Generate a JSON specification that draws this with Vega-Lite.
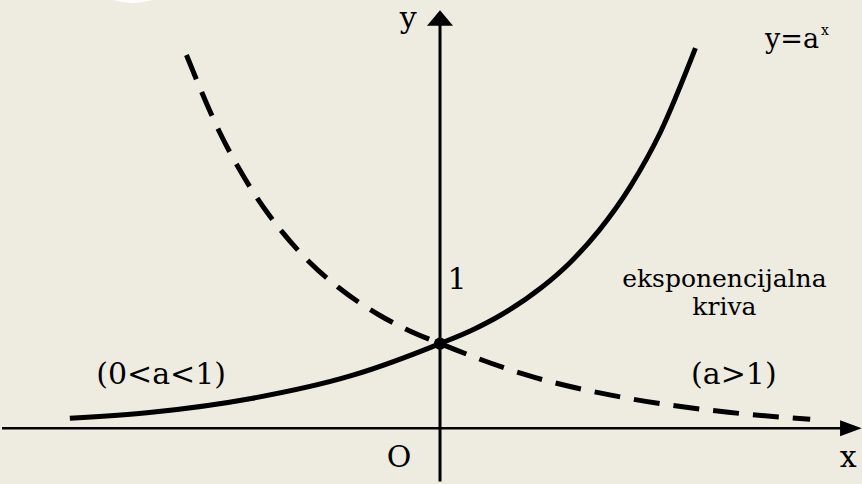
{
  "$schema": "https://vega.github.io/schema/vega-lite/v6.json",
  "width": 862,
  "height": 484,
  "padding": 0,
  "autosize": {"type": "fit", "contains": "padding"},
  "background": "#eeebe0",
  "config": {"view": {"stroke": null}},
  "layer": [
    {
      "data": {"values": [{"x": -3.624, "y": 5.712}]},
      "mark": {"type": "point", "shape": "circle", "filled": true, "color": "#ffffff", "opacity": 0.9, "size": 13689, "clip": true},
      "encoding": {
        "x": {"field": "x", "type": "quantitative", "scale": {"domain": [-5.165, 4.976], "nice": false, "zero": false}, "axis": null},
        "y": {"field": "y", "type": "quantitative", "scale": {"domain": [-0.635, 5.059], "nice": false, "zero": false}, "axis": null}
      }
    },
    {
      "data": {"values": [{"x": -5.165, "x2": 4.82, "y": 0}]},
      "mark": {"type": "rule", "color": "#000000", "strokeWidth": 2.5},
      "encoding": {
        "x": {"field": "x", "type": "quantitative"},
        "x2": {"field": "x2"},
        "y": {"field": "y", "type": "quantitative"}
      }
    },
    {
      "data": {"values": [{"x": 0, "y": -0.63, "y2": 4.8}]},
      "mark": {"type": "rule", "color": "#000000", "strokeWidth": 3},
      "encoding": {
        "x": {"field": "x", "type": "quantitative"},
        "y": {"field": "y", "type": "quantitative"},
        "y2": {"field": "y2"}
      }
    },
    {
      "data": {"values": [{"x": 0, "y": 4.847}]},
      "mark": {"type": "point", "shape": "M0,-0.6L1,0.6L-1,0.6Z", "filled": true, "color": "#000000", "opacity": 1, "size": 676},
      "encoding": {
        "x": {"field": "x", "type": "quantitative"},
        "y": {"field": "y", "type": "quantitative"}
      }
    },
    {
      "data": {"values": [{"x": 4.845, "y": 0}]},
      "mark": {"type": "point", "shape": "M1.35,0L-1.35,-1L-1.35,1Z", "filled": true, "color": "#000000", "opacity": 1, "size": 256},
      "encoding": {
        "x": {"field": "x", "type": "quantitative"},
        "y": {"field": "y", "type": "quantitative"}
      }
    },
    {
      "data": {"values": [
        {"x": -4.365, "y": 0.118},
        {"x": -3.4, "y": 0.189},
        {"x": -2.224, "y": 0.352},
        {"x": -1.047, "y": 0.621},
        {"x": 0, "y": 1},
        {"x": 0.4, "y": 1.17},
        {"x": 0.718, "y": 1.338},
        {"x": 1.2, "y": 1.665},
        {"x": 1.541, "y": 1.965},
        {"x": 1.871, "y": 2.331},
        {"x": 2.247, "y": 2.86},
        {"x": 2.6, "y": 3.5},
        {"x": 3.012, "y": 4.49}
      ]},
      "mark": {"type": "line", "color": "#000000", "strokeWidth": 5, "interpolate": "monotone"},
      "encoding": {
        "x": {"field": "x", "type": "quantitative"},
        "y": {"field": "y", "type": "quantitative"}
      }
    },
    {
      "data": {"values": [
        {"x": -2.99, "y": 4.41},
        {"x": -2.6, "y": 3.5},
        {"x": -2.247, "y": 2.86},
        {"x": -1.871, "y": 2.331},
        {"x": -1.541, "y": 1.965},
        {"x": -1.2, "y": 1.665},
        {"x": -0.718, "y": 1.338},
        {"x": -0.4, "y": 1.17},
        {"x": 0, "y": 1},
        {"x": 1.047, "y": 0.621},
        {"x": 2.224, "y": 0.352},
        {"x": 3.4, "y": 0.189},
        {"x": 4.365, "y": 0.106}
      ]},
      "mark": {"type": "line", "color": "#000000", "strokeWidth": 5, "strokeDash": [26, 14], "strokeCap": "butt", "interpolate": "monotone"},
      "encoding": {
        "x": {"field": "x", "type": "quantitative"},
        "y": {"field": "y", "type": "quantitative"}
      }
    },
    {
      "data": {"values": [{"x": 0, "y": 1}]},
      "mark": {"type": "point", "shape": "circle", "filled": true, "color": "#000000", "opacity": 1, "size": 150},
      "encoding": {
        "x": {"field": "x", "type": "quantitative"},
        "y": {"field": "y", "type": "quantitative"}
      }
    },
    {
      "data": {"values": [
        {"x": -0.376, "y": 4.729, "label": "y"},
        {"x": 4.812, "y": -0.459, "label": "x"},
        {"x": -0.482, "y": -0.459, "label": "O"},
        {"x": 0.2, "y": 1.647, "label": "1"}
      ]},
      "mark": {"type": "text", "font": "DejaVu Serif", "fontSize": 30, "align": "center", "baseline": "alphabetic", "color": "#000000"},
      "encoding": {
        "x": {"field": "x", "type": "quantitative"},
        "y": {"field": "y", "type": "quantitative"},
        "text": {"field": "label"}
      }
    },
    {
      "data": {"values": [{"x": 4.47, "y": 4.494, "label": "y=a"}]},
      "mark": {"type": "text", "font": "DejaVu Serif", "fontSize": 27, "align": "right", "baseline": "alphabetic", "color": "#000000"},
      "encoding": {
        "x": {"field": "x", "type": "quantitative"},
        "y": {"field": "y", "type": "quantitative"},
        "text": {"field": "label"}
      }
    },
    {
      "data": {"values": [{"x": 4.494, "y": 4.647, "label": "x"}]},
      "mark": {"type": "text", "font": "DejaVu Serif", "fontSize": 14, "align": "left", "baseline": "alphabetic", "color": "#000000"},
      "encoding": {
        "x": {"field": "x", "type": "quantitative"},
        "y": {"field": "y", "type": "quantitative"},
        "text": {"field": "label"}
      }
    },
    {
      "data": {"values": [
        {"x": 3.353, "y": 1.671, "label": "eksponencijalna"},
        {"x": 3.353, "y": 1.341, "label": "kriva"}
      ]},
      "mark": {"type": "text", "font": "DejaVu Serif", "fontSize": 25, "align": "center", "baseline": "alphabetic", "color": "#000000"},
      "encoding": {
        "x": {"field": "x", "type": "quantitative"},
        "y": {"field": "y", "type": "quantitative"},
        "text": {"field": "label"}
      }
    },
    {
      "data": {"values": [
        {"x": -3.288, "y": 0.518, "label": "(0<a<1)"},
        {"x": 3.465, "y": 0.518, "label": "(a>1)"}
      ]},
      "mark": {"type": "text", "font": "DejaVu Serif", "fontSize": 30, "align": "center", "baseline": "alphabetic", "color": "#000000"},
      "encoding": {
        "x": {"field": "x", "type": "quantitative"},
        "y": {"field": "y", "type": "quantitative"},
        "text": {"field": "label"}
      }
    }
  ]
}
